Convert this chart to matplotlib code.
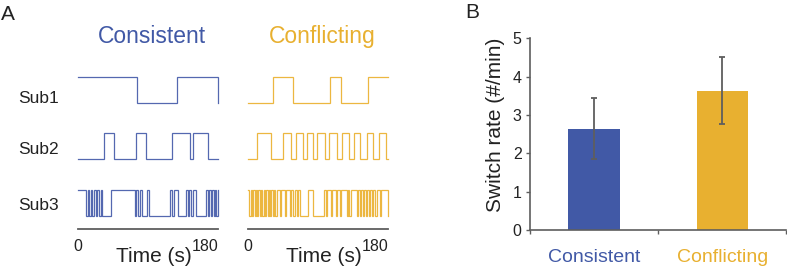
import numpy as np
import matplotlib
matplotlib.use('Agg')
import matplotlib.pyplot as plt

plt.rcParams['font.family'] = ['Liberation Sans', 'DejaVu Sans']

# ---------------- data ----------------
conditions = ['Consistent', 'Conflicting']
subjects = ['Sub1', 'Sub2', 'Sub3']
duration = 180

# percept time courses: initial state (1 = up, 0 = down) and switch times (s)
cons_sub1_start = 1
cons_sub1_switches = [76.0, 127.0, 179.5]
cons_sub2_start = 0
cons_sub2_switches = [33.6, 46.5, 74.5, 87.0, 120.0, 143.5, 147.5, 166.5]
cons_sub3_start = 1
cons_sub3_switches = [9.9, 12.0, 14.0, 16.0, 18.2, 20.6, 22.5, 24.5, 26.5,
                      29.0, 31.0, 41.6, 72.9, 74.8, 76.8, 79.0, 82.5, 88.5, 90.5,
                      117.9, 120.5, 123.5, 127.8, 138.5, 140.6, 142.8, 145.0, 147.2,
                      151.3, 164.2, 166.5, 168.5, 170.5, 172.5, 174.2, 176.0,
                      177.6, 179.2]

conf_sub1_start = 0
conf_sub1_switches = [31.3, 57.9, 105.0, 118.7, 153.4]
conf_sub2_start = 0
conf_sub2_switches = [11.6, 28.8, 44.2, 54.5, 60.9, 70.8, 75.9, 83.2, 88.8, 98.6,
                      104.2, 113.6, 120.0, 129.0, 135.9, 143.6, 153.0, 160.8, 168.0, 177.5]
conf_sub3_start = 1
conf_sub3_switches = [1.5, 3.0, 4.8, 6.5, 8.0, 9.8, 11.5, 13.0, 14.8, 16.5, 18.0,
                      19.8, 21.5, 23.0, 24.8, 26.5, 28.0, 29.8, 31.5, 33.0, 34.8, 36.5,
                      40.8, 42.5, 47.2, 49.0, 53.6, 55.5, 58.0, 60.0, 62.0, 64.0, 66.5,
                      77.0, 83.6, 97.7, 99.5, 101.5, 106.5, 108.0, 113.0,
                      114.5, 117.5, 119.0, 126.4, 128.0, 130.0, 132.0,
                      139.2, 141.0, 143.0, 145.0, 147.0, 149.0, 151.0, 153.0,
                      155.0, 156.4, 158.5, 160.5, 163.5, 165.5, 169.2, 171.0, 179.5]

# panel B
switch_rate = [2.64, 3.635]        # #/min
switch_rate_err = [0.80, 0.865]
yticks_B = [0, 1, 2, 3, 4, 5]

# ---------------- styling ----------------
W, H = 787, 269
fig = plt.figure(figsize=(W / 100, H / 100), dpi=100)


def fx(px):
    return px / W


def fy(py):
    return 1 - py / H


BLUE = '#4159a6'
ORANGE = '#e8b030'
BLUE_LINE = '#5468b0'
ORANGE_LINE = '#ecb740'
GRAY = '#5e5e5e'
colors = [BLUE, ORANGE]
line_colors = [BLUE_LINE, ORANGE_LINE]

trace_base = [4.397, 2.218, 0.0]   # vertical offsets of Sub1..Sub3

traces = [
    [(cons_sub1_start, cons_sub1_switches), (cons_sub2_start, cons_sub2_switches),
     (cons_sub3_start, cons_sub3_switches)],
    [(conf_sub1_start, conf_sub1_switches), (conf_sub2_start, conf_sub2_switches),
     (conf_sub3_start, conf_sub3_switches)],
]


def draw_trace(ax, start, switches, base, color):
    times = [0] + list(switches) + [duration]
    states = [(start + i) % 2 for i in range(len(switches) + 1)]
    states.append(states[-1])
    ax.step(times, np.array(states) + base, where='post', color=color,
            lw=0.9, clip_on=False, solid_joinstyle='miter')


ax_left_px = [78.3, 248.3]
ax_w_px = 140.0
for ci, cond in enumerate(conditions):
    left = ax_left_px[ci]
    ax = fig.add_axes([fx(left), fy(229), ax_w_px / W, (229 - 74.65) / H])
    for si, (st, sw) in enumerate(traces[ci]):
        draw_trace(ax, st, sw, trace_base[si], line_colors[ci])
    ax.set_xlim(0, duration)
    ax.set_ylim(-0.506, 5.5)
    for s in ['top', 'right', 'left']:
        ax.spines[s].set_visible(False)
    ax.spines['bottom'].set_color(GRAY)
    ax.spines['bottom'].set_linewidth(1.3)
    ax.set_yticks([])
    ax.set_xticks([0, duration], ['0', str(duration)])
    ax.tick_params(axis='x', length=0, pad=7.5, labelsize=11.5, labelcolor='#222222')
    ax.get_xticklabels()[1].set_horizontalalignment('right')
    ax.patch.set_alpha(0)
    # condition title
    fig.text(fx(left + ax_w_px / 2 + 4), fy(43.3), cond, color=colors[ci],
             fontsize=16.5, ha='center', va='baseline')
    fig.text(fx(left + ax_w_px * 0.54), fy(262.5), 'Time (s)', color='#222222',
             fontsize=15, ha='center', va='baseline')

sub_baselines = [102.7, 154.0, 210.0]
for name, b in zip(subjects, sub_baselines):
    fig.text(fx(18), fy(b), name, fontsize=12.5, color='#222222',
             ha='left', va='baseline')

fig.text(fx(1), fy(20), 'A', fontsize=15, color='#222222', ha='left', va='baseline')
fig.text(fx(465), fy(18), 'B', fontsize=15, color='#222222', ha='left', va='baseline')

# ---------------- panel B ----------------
axb = fig.add_axes([fx(530), fy(230), (786.3 - 530) / W, (230 - 38.3) / H])
xpos = [0.5, 1.5]
axb.bar(xpos, switch_rate, width=0.4, color=colors, edgecolor='none', zorder=2)
axb.errorbar(xpos, switch_rate, yerr=switch_rate_err, fmt='none', ecolor=GRAY,
             elinewidth=1.3, capsize=2.5, capthick=1.3, zorder=3)
axb.set_xlim(0, 2)
axb.set_ylim(0, 5)
for s in ['top', 'right']:
    axb.spines[s].set_visible(False)
for s in ['left', 'bottom']:
    axb.spines[s].set_color(GRAY)
    axb.spines[s].set_linewidth(1.2)
axb.set_yticks(yticks_B)
axb.tick_params(axis='y', direction='out', length=3, width=1, color=GRAY,
                labelsize=11.5, labelcolor='#222222', pad=3)
axb.set_xticks(xpos, conditions)
axb.set_xticks([0, 1, 2], minor=True)
axb.tick_params(axis='x', which='major', length=0, pad=14, labelsize=14)
axb.tick_params(axis='x', which='minor', direction='out', length=3, width=1, color=GRAY)
for lab, c in zip(axb.get_xticklabels(), colors):
    lab.set_color(c)
axb.patch.set_alpha(0)
fig.text(fx(495), fy(125), 'Switch rate (#/min)', rotation=90, fontsize=15,
         color='#222222', ha='center', va='center')

fig.savefig('out.png', dpi=100)
